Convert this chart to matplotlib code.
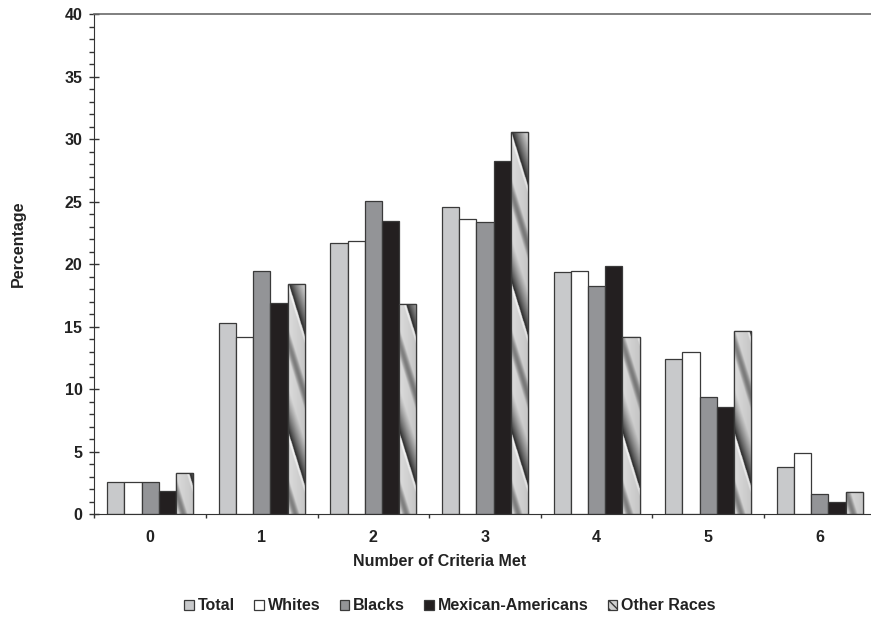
import numpy as np
import matplotlib
matplotlib.use('Agg')
import matplotlib.pyplot as plt
from matplotlib.patches import Rectangle
from matplotlib.ticker import MultipleLocator

plt.rcParams['font.family'] = ['Liberation Sans', 'DejaVu Sans']
plt.rcParams['font.weight'] = 'bold'

# data
criteria = ['0', '1', '2', '3', '4', '5', '6']
series_names = ['Total', 'Whites', 'Blacks', 'Mexican-Americans', 'Other Races']
total = [2.6, 15.3, 21.7, 24.6, 19.4, 12.4, 3.8]
whites = [2.6, 14.2, 21.9, 23.6, 19.5, 13.0, 4.9]
blacks = [2.6, 19.5, 25.1, 23.4, 18.3, 9.4, 1.6]
mexican = [1.9, 16.9, 23.5, 28.3, 19.9, 8.6, 1.0]
other = [3.3, 18.4, 16.8, 30.6, 14.2, 14.7, 1.8]

series = [total, whites, blacks, mexican, other]
colors = ['#c8c9cb', '#ffffff', '#939497', '#231f20', '#d9dadc']
edge = '#3a3a3a'
FS = 11.5

W, H = 871, 623
fig = plt.figure(figsize=(W / 100, H / 100), dpi=100)
ax = fig.add_axes([94.3 / W, 1 - 514.3 / H, 781.4 / W, 500.0 / H])

x = np.arange(len(criteria))
bw = 0.154
ax.set_xlim(-0.5, 6.5)
ax.set_ylim(0, 40)

bars = []
for i, (vals, c) in enumerate(zip(series, colors)):
    b = ax.bar(x + (i - 2) * bw, vals, bw, color=c, edgecolor=edge,
               linewidth=0.9, zorder=2)
    bars.append(b)

# metallic diagonal shading for "Other Races"
px_x = 781.4 / 7.0   # pixels per x unit
px_y = 500.0 / 40.0  # pixels per y unit
period = 150.0
for rect in bars[4]:
    x0 = rect.get_x()
    w = rect.get_width()
    h = rect.get_height()
    nx = 40
    ny = max(int(h * px_y * 2), 4)
    xx = np.linspace(0, w * px_x, nx)
    yy = np.linspace(h * px_y, 0, ny)
    XX, YY = np.meshgrid(xx, yy)
    t = ((YY + 3.3 * XX) / period) % 1.0
    v = np.full_like(t, 0.86)
    band = (t > 0.55) & (t < 0.85)
    u = (t[band] - 0.55) / 0.30
    v[band] = 0.12 + 0.74 * u ** 0.8
    hl = (t > 0.50) & (t <= 0.55)
    v[hl] = 0.97
    soft = (t > 0.05) & (t < 0.25)
    s = (t[soft] - 0.05) / 0.20
    v[soft] = 0.86 - 0.35 * np.sin(np.pi * s)
    v = v * (0.9 + 0.1 * (1 - XX / (w * px_x)))
    im = ax.imshow(v, cmap='gray', vmin=0, vmax=1, aspect='auto',
                   extent=(x0, x0 + w, 0, h), interpolation='bilinear',
                   zorder=2.5)
    im.set_clip_path(rect)
    ax.add_patch(Rectangle((x0, 0), w, h, fill=False, edgecolor=edge,
                           linewidth=0.9, zorder=3))

ax.set_xlim(-0.5, 6.5)
ax.set_ylim(0, 40)

ax.spines['right'].set_visible(False)
ax.spines['top'].set_color('#6a6a6a')
ax.spines['top'].set_linewidth(1.2)
ax.spines['left'].set_color('#333333')
ax.spines['bottom'].set_color('#333333')

ax.yaxis.set_major_locator(MultipleLocator(5))
ax.yaxis.set_minor_locator(MultipleLocator(1))
ax.tick_params(axis='y', which='major', direction='inout', length=7,
               width=1, labelsize=FS, pad=5, colors='#333333',
               labelcolor='#222222')
ax.tick_params(axis='y', which='minor', direction='out', length=3.5,
               width=1, colors='#333333')

ax.set_xticks(x)
ax.set_xticklabels(criteria)
ax.set_xticks(np.arange(-0.5, 7.0, 1.0), minor=True)
ax.tick_params(axis='x', which='major', length=0, labelsize=FS, pad=11,
               labelcolor='#222222')
ax.tick_params(axis='x', which='minor', direction='out', length=3,
               width=1, colors='#333333')

ax.set_xlabel('Number of Criteria Met', fontsize=FS, fontweight='bold',
              color='#222222')
ax.xaxis.set_label_coords((440 - 94.3) / 781.4, -(561 - 514.3) / 500.0)
ax.xaxis.label.set_va('center')
fig.text(18 / W, 1 - 244 / H, 'Percentage', rotation=90, fontsize=FS,
         fontweight='bold', color='#222222', ha='center', va='center')

handles = []
for i, c in enumerate(colors):
    if i == 4:
        handles.append(Rectangle((0, 0), 1, 1, facecolor='#d0d0d0',
                                 edgecolor=edge, hatch='\\\\\\\\',
                                 linewidth=0.9))
    else:
        handles.append(Rectangle((0, 0), 1, 1, facecolor=c,
                                 edgecolor=edge, linewidth=0.9))
fig.legend(handles, series_names, loc='center', ncol=5, frameon=False,
           bbox_to_anchor=(450 / W, 1 - 606 / H), fontsize=FS,
           handlelength=0.6, handleheight=0.6, handletextpad=0.25,
           columnspacing=1.2, labelcolor='#222222')

fig.savefig('out.png', dpi=100, facecolor='white')
